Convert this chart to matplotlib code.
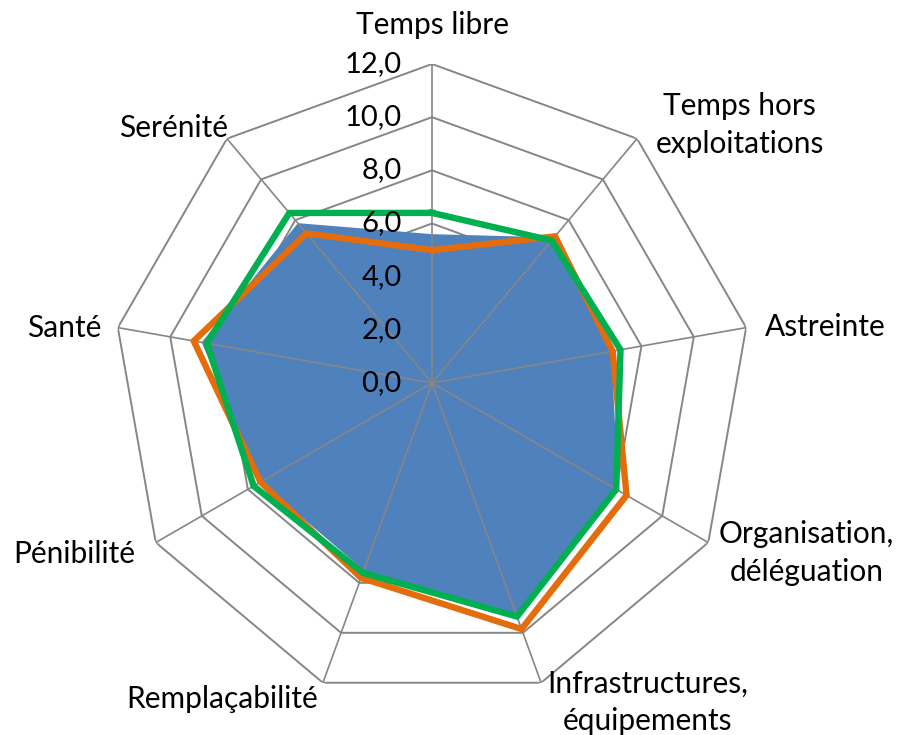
import numpy as np
import matplotlib
matplotlib.use("Agg")
import matplotlib.pyplot as plt

# axes du radar, dans le sens horaire depuis le haut
categories = [
    "Temps libre",
    "Temps hors\nexploitations",
    "Astreinte",
    "Organisation,\ndéléguation",
    "Infrastructures,\néquipements",
    "Remplaçabilité",
    "Pénibilité",
    "Santé",
    "Serénité",
]
serie_bleue = [5.6, 7.15, 6.85, 8.1, 9.45, 7.5, 7.45, 8.8, 7.85]
serie_orange = [5.0, 7.2, 6.9, 8.45, 9.85, 7.8, 7.45, 9.1, 7.35]
serie_verte = [6.4, 7.0, 7.2, 8.0, 9.35, 7.6, 7.75, 8.6, 8.35]
niveaux = [0, 2, 4, 6, 8, 10, 12]
labels_niveaux = ["0,0", "2,0", "4,0", "6,0", "8,0", "10,0", "12,0"]

# placement des libellés (angle en degrés, rayon en unités)
POS_LIBELLES = [
    (0.0, 13.45), (50.0, 15.1), (81.9, 14.96), (114.4, 15.48), (146.0, 14.5),
    (213.6, 14.26), (244.5, 14.9), (278.5, 14.0), (314.6, 13.66),
]

BLEU = "#4F81BD"
ORANGE = "#E46C0A"
VERT = "#00B050"
GRILLE = "#868686"
FONT = "Lato"

n = len(categories)
angles = np.linspace(0, 2 * np.pi, n, endpoint=False)
angles_ferme = np.append(angles, angles[0])


def ferme(values):
    return np.append(values, values[0])


fig = plt.figure(figsize=(9.02, 7.35), dpi=100)
ax = fig.add_axes([0.1253, 0.0449, 0.7073, 0.868], projection="polar")
ax.set_theta_zero_location("N")
ax.set_theta_direction(-1)
ax.set_ylim(0, 12)
ax.grid(False)
ax.spines["polar"].set_visible(False)
ax.set_xticks([])
ax.set_yticks([])
ax.patch.set_alpha(0)

# polygones de niveau (sous la surface)
for niveau in niveaux[1:]:
    ax.plot(angles_ferme, [niveau] * (n + 1), color=GRILLE, lw=1.4, zorder=1)

ax.fill(angles_ferme, ferme(serie_bleue), color=BLEU, lw=0, zorder=2)

# rayons par-dessus la surface
for a in angles:
    ax.plot([a, a], [0, 12], color=GRILLE, lw=1.2, zorder=3)

ax.plot(angles_ferme, ferme(serie_orange), color=ORANGE, lw=4.6, zorder=4,
        solid_joinstyle="miter")
ax.plot(angles_ferme, ferme(serie_verte), color=VERT, lw=4.6, zorder=5,
        solid_joinstyle="miter")

for niveau, lab in zip(niveaux, labels_niveaux):
    ax.annotate(lab, xy=(0, niveau), xytext=(-22, 0), textcoords="offset points",
                ha="right", va="center", fontsize=21, family=FONT, zorder=6,
                annotation_clip=False)

for lab, (deg, r) in zip(categories, POS_LIBELLES):
    ax.text(np.deg2rad(deg), r, lab, ha="center", va="center",
            multialignment="center", fontsize=21.5, family=FONT, clip_on=False,
            linespacing=1.4)

fig.savefig("out.png", dpi=100)
